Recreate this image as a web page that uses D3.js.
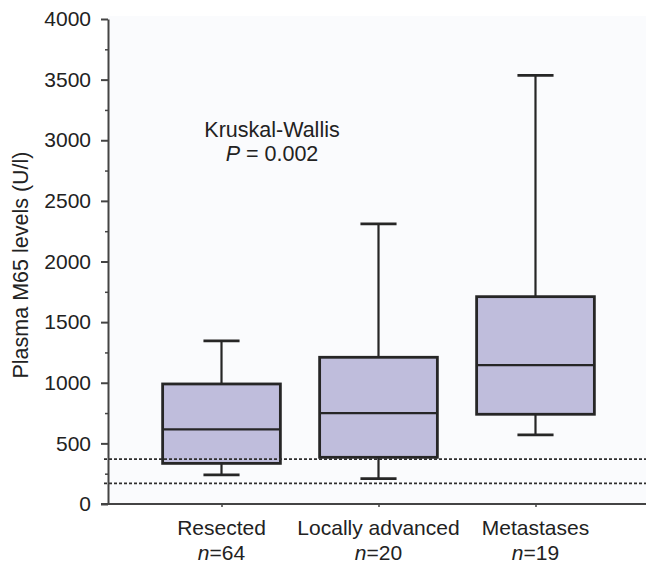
<!DOCTYPE html>
<html>
<head>
<meta charset="utf-8">
<script src="https://cdn.jsdelivr.net/npm/d3@7"></script>
<style>
  body { margin: 0; background: #fff; }
  text { font-family: "Liberation Sans", Arial, sans-serif; fill: #222; }
</style>
</head>
<body>
<script>
// group names and counts
let categories = ["Resected", "Locally advanced", "Metastases"];
let nLabels = ["64", "20", "19"];

// box plot statistics (U/l)
let whiskerLow = [240, 210, 570];
let q1 = [335, 385, 740];
let median = [615, 750, 1145];
let q3 = [990, 1210, 1710];
let whiskerHigh = [1345, 2310, 3535];

// dashed reference levels
let refLines = [370, 170];

let yTicks = [0, 500, 1000, 1500, 2000, 2500, 3000, 3500, 4000];
let yMinorTicks = [250, 750, 1250, 1750, 2250, 2750, 3250, 3750];

let width = 646, height = 565;
let plotLeft = 108, plotRight = 646, plotTop = 19, plotBottom = 504;

let svg = d3.select("body").append("svg")
    .attr("width", width).attr("height", height);

let x = d3.scalePoint()
    .domain(categories)
    .range([plotLeft, plotRight + 3])
    .padding(0.723);

let y = d3.scaleLinear()
    .domain([0, 4000])
    .range([plotBottom, plotTop]);

let step = x.step();
let boxW = step * 0.75;
let capW = step * 0.23;

// faint plot background
svg.append("rect")
    .attr("x", plotLeft).attr("y", plotTop - 3)
    .attr("width", plotRight - plotLeft).attr("height", plotBottom - plotTop + 3)
    .attr("fill", "#fafbfd");

let data = categories.map((c, i) => ({
    cat: c, n: nLabels[i],
    lo: whiskerLow[i], q1: q1[i], med: median[i], q3: q3[i], hi: whiskerHigh[i]
}));

let g = svg.selectAll("g.box").data(data).enter()
    .append("g").attr("class", "box");

let stroke = "#262626";

// whisker stems
g.append("line")
    .attr("x1", d => x(d.cat)).attr("x2", d => x(d.cat))
    .attr("y1", d => y(d.lo)).attr("y2", d => y(d.hi))
    .attr("stroke", stroke).attr("stroke-width", 2.2);

// caps
g.selectAll("line.cap").data(d => [{cat: d.cat, v: d.lo}, {cat: d.cat, v: d.hi}])
    .enter().append("line").attr("class", "cap")
    .attr("x1", d => x(d.cat) - capW / 2).attr("x2", d => x(d.cat) + capW / 2)
    .attr("y1", d => y(d.v)).attr("y2", d => y(d.v))
    .attr("stroke", stroke).attr("stroke-width", 2.8);

// boxes
g.append("rect")
    .attr("x", d => x(d.cat) - boxW / 2)
    .attr("y", d => y(d.q3))
    .attr("width", boxW)
    .attr("height", d => y(d.q1) - y(d.q3))
    .attr("fill", "#bfbddc")
    .attr("stroke", stroke).attr("stroke-width", 2.8);

// medians
g.append("line")
    .attr("x1", d => x(d.cat) - boxW / 2).attr("x2", d => x(d.cat) + boxW / 2)
    .attr("y1", d => y(d.med)).attr("y2", d => y(d.med))
    .attr("stroke", stroke).attr("stroke-width", 2.2);

// dashed reference lines
svg.selectAll("line.ref").data(refLines).enter()
    .append("line").attr("class", "ref")
    .attr("x1", plotLeft - 4).attr("x2", plotRight)
    .attr("y1", d => y(d)).attr("y2", d => y(d))
    .attr("stroke", "#2e2e2e").attr("stroke-width", 1.8)
    .attr("stroke-dasharray", "3,2");

// y axis
let yAxis = svg.append("g")
    .attr("transform", "translate(" + plotLeft + ",0)")
    .call(d3.axisLeft(y).tickValues(yTicks).tickFormat(d3.format("d"))
        .tickSize(7).tickPadding(10).tickSizeOuter(0));
yAxis.select(".domain").attr("stroke", "#444").attr("stroke-width", 2);
yAxis.selectAll(".tick line").attr("stroke", "#444").attr("stroke-width", 2);
yAxis.selectAll(".tick text")
    .style("font-family", "'Liberation Sans', Arial, sans-serif")
    .style("font-size", "21px").attr("fill", "#222");

svg.append("g")
    .attr("transform", "translate(" + plotLeft + ",0)")
    .call(d3.axisLeft(y).tickValues(yMinorTicks).tickSize(3).tickFormat(""))
    .call(a => a.select(".domain").remove())
    .selectAll("line").attr("stroke", "#444").attr("stroke-width", 1.5);

// x axis
let xAxis = svg.append("g")
    .attr("transform", "translate(0," + plotBottom + ")")
    .call(d3.axisBottom(x).tickSize(3).tickFormat("").tickSizeOuter(0));
xAxis.select(".domain").attr("stroke", "#444").attr("stroke-width", 2)
    .attr("d", "M" + (plotLeft - 7) + ",0H" + plotRight);
xAxis.selectAll(".tick line").attr("stroke", "#444").attr("stroke-width", 1.5);

// category labels
let lab = svg.selectAll("g.lab").data(data).enter().append("g").attr("class", "lab");
lab.append("text")
    .attr("x", d => x(d.cat)).attr("y", 535)
    .attr("text-anchor", "middle").style("font-size", "21px")
    .text(d => d.cat);
let nt = lab.append("text")
    .attr("x", d => x(d.cat)).attr("y", 560)
    .attr("text-anchor", "middle").style("font-size", "21px");
nt.append("tspan").style("font-style", "italic").text("n");
nt.append("tspan").text(d => "=" + d.n);

// y axis title
svg.append("text")
    .attr("transform", "translate(28," + 265 + ") rotate(-90)")
    .attr("text-anchor", "middle").style("font-size", "21.5px")
    .text("Plasma M65 levels (U/l)");

// test annotation
svg.append("text")
    .attr("x", 272).attr("y", 137)
    .attr("text-anchor", "middle").style("font-size", "21.5px")
    .text("Kruskal-Wallis");
let pt = svg.append("text")
    .attr("x", 272).attr("y", 161)
    .attr("text-anchor", "middle").style("font-size", "21.5px");
pt.append("tspan").style("font-style", "italic").text("P");
pt.append("tspan").text(" = 0.002");
</script>
</body>
</html>
